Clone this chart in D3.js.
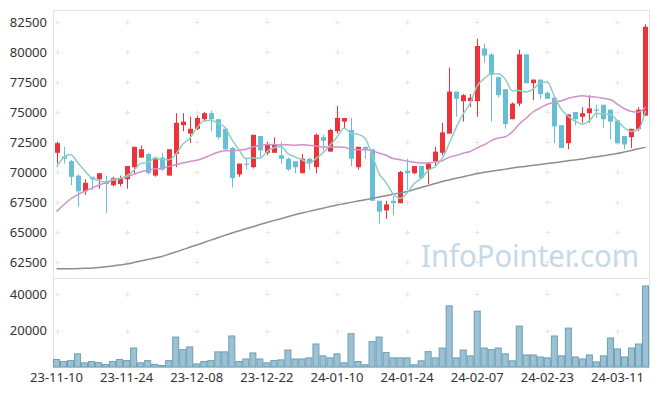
<!DOCTYPE html>
<html>
<head>
<meta charset="utf-8">
<script src="https://d3js.org/d3.v7.min.js"></script>
<style>
    body { margin: 0; background: #fff; }
    svg text { font-family: "Noto Sans", sans-serif; }
</style>
</head>
<body>
<div id="chartContainer"></div>
<script>
const ctx = {
    SVG_W: 657,
    SVG_H: 396,
    left: 53,
    right: 649,
    top: 10,
    priceBottom: 278,
    volBottom: 367,
    upColor: "#ee3338",
    downColor: "#66bfd7",
};

// trading days (yy-mm-dd)
const dates = [
    "23-11-10","23-11-13","23-11-14","23-11-15","23-11-16","23-11-17","23-11-20","23-11-21","23-11-22","23-11-23",
    "23-11-24","23-11-27","23-11-28","23-11-29","23-11-30","23-12-01","23-12-04","23-12-05","23-12-06","23-12-07",
    "23-12-08","23-12-11","23-12-12","23-12-13","23-12-14","23-12-15","23-12-18","23-12-19","23-12-20","23-12-21",
    "23-12-22","23-12-26","23-12-27","23-12-28","24-01-02","24-01-03","24-01-04","24-01-05","24-01-08","24-01-09",
    "24-01-10","24-01-11","24-01-12","24-01-15","24-01-16","24-01-17","24-01-18","24-01-19","24-01-22","24-01-23",
    "24-01-24","24-01-25","24-01-26","24-01-29","24-01-30","24-01-31","24-02-01","24-02-02","24-02-05","24-02-06",
    "24-02-07","24-02-08","24-02-13","24-02-14","24-02-15","24-02-16","24-02-19","24-02-20","24-02-21","24-02-22",
    "24-02-23","24-02-26","24-02-27","24-02-28","24-02-29","24-03-04","24-03-05","24-03-06","24-03-07","24-03-08",
    "24-03-11","24-03-12","24-03-13","24-03-14","24-03-15"
];

const opens = [
    71600,71300,70900,69700,68400,69600,69400,69200,68900,69000,
    69400,70400,71200,71500,69700,71200,69700,71500,73900,73200,
    73600,74400,74900,74400,73600,72000,69800,70700,70400,73000,
    71600,71600,71400,71100,70900,69900,71100,70400,72900,71700,
    73400,74200,73500,70400,72100,71900,67600,66800,67600,67400,
    70100,69900,70500,70200,70900,71600,73200,76700,75900,75900,
    75900,80300,79800,77900,76900,74400,75700,79800,77400,77700,
    76600,76200,73900,72400,75000,74600,74900,75200,75600,75200,
    74300,73000,72900,73600,74700
];
const highs = [
    72500,72100,71000,69800,69400,69600,69900,69700,69600,69700,
    70500,72100,72200,71600,71200,71600,71900,74900,74900,74600,
    74700,75000,75100,74400,73700,72100,70700,71200,73100,73000,
    72500,72900,72500,71200,70900,71500,71200,73200,73100,73600,
    75500,74500,74500,72100,72100,71900,67600,67600,68000,70100,
    71100,70500,70500,70800,72100,74100,78700,76700,76500,76500,
    81100,80700,79900,77900,76900,75800,80200,79800,77700,77700,
    76700,76200,73900,74800,75000,75400,76400,75600,75600,75200,
    74300,73000,73600,75400,82300
];
const lows = [
    70700,70700,68900,67100,68100,68500,68600,66600,68800,68800,
    68600,69900,71200,69800,69600,70100,69700,70400,73400,72400,
    73500,74200,73400,72700,71800,68700,69600,70200,70300,71200,
    71400,71600,70700,70100,69900,69900,70200,69900,71800,71700,
    73200,73600,70500,70200,71100,67600,65700,66100,66400,67400,
    68500,69800,69400,69000,70400,71400,73200,74600,74200,75400,
    74600,79100,74200,76200,73600,74400,75500,77400,76000,76100,
    76100,72400,72000,71900,73900,74100,74100,74500,73700,72700,
    72300,71900,72000,73400,74700
];
const closes = [
    72400,71100,69600,68400,69100,69400,69900,69000,69500,69500,
    70500,72100,71900,69900,71200,70200,71900,74100,74200,73600,
    74500,74900,74400,72900,71900,69500,70700,70600,73100,71800,
    72300,72300,71100,70200,70400,71100,70800,73100,72600,73500,
    74500,74500,71100,72100,71900,67600,66700,67300,67400,70000,
    69900,70500,69500,70700,71700,73300,76700,76100,76400,76200,
    80500,79700,78100,76400,74000,75700,79800,77400,77700,76500,
    76100,73800,72000,74800,74400,74900,75300,75100,74400,74200,
    72400,72300,73600,75200,82100
];
const volumes = [
    4100,3000,3500,7200,2300,3000,2400,1400,3000,4100,
    3500,10400,2300,3500,1400,800,3500,16400,9500,11000,
    1700,3000,3500,8300,8300,17000,3000,4400,7700,4400,
    2300,3500,3900,9300,4400,4400,5000,12600,6100,5000,
    7200,2300,18200,3000,1200,13900,16400,7900,5000,5000,
    5000,1200,3400,8400,5000,10400,33500,5000,9300,6100,
    30600,10400,9500,10400,7200,3400,22400,6600,6600,5500,
    5000,17000,6100,21300,5500,4400,6600,2800,6100,15900,
    9900,5500,10400,12600,44400
];

// moving averages
const ma5 = [
    70400,71200,71450,70800,70120,69520,69280,69160,69380,69460,
    69680,70120,70700,70780,71120,71060,71020,71460,72320,72800,
    73660,74260,74320,74060,73720,72720,71880,71120,71160,71140,
    71700,72020,72120,71540,71260,71020,70720,71120,71600,72220,
    72900,73640,73240,73140,72820,71440,69880,69120,68180,67800,
    68260,69020,69460,70120,70460,71140,72380,73700,74840,75740,
    77180,77780,78180,78180,77740,76780,76800,76660,76920,77420,
    77500,76300,75220,74640,74220,73980,74280,74900,74820,74780,
    74280,73680,73380,73540,75120
];
const ma20 = [
    66700,67250,67750,68100,68400,68650,68900,69100,69300,69450,
    69600,69800,70000,70150,70250,70300,70450,70600,70750,70880,
    70980,71170,71410,71640,71780,71780,71820,71900,72080,72200,
    72290,72300,72260,72270,72230,72280,72220,72170,72090,72090,
    72090,72070,71900,71860,71860,71770,71570,71400,71120,71030,
    70910,70820,70740,70760,70830,70940,71230,71380,71570,71710,
    72010,72270,72620,72830,72940,73340,74000,74500,75020,75340,
    75650,75820,75940,76150,76280,76360,76290,76240,76140,76040,
    75640,75270,75040,74980,75390
];
const maLong = [
    61930,61930,61940,61950,61970,61980,62040,62100,62170,62250,
    62330,62450,62580,62700,62830,62960,63140,63330,63530,63730,
    63920,64120,64320,64520,64720,64920,65090,65270,65440,65620,
    65790,65950,66110,66270,66430,66580,66720,66850,66980,67120,
    67250,67360,67470,67580,67680,67790,67910,68030,68140,68260,
    68380,68540,68710,68880,69040,69210,69340,69480,69610,69740,
    69880,69970,70060,70150,70240,70330,70410,70480,70560,70630,
    70710,70780,70860,70930,71010,71080,71180,71270,71360,71450,
    71540,71670,71800,71930,72060
];

const dateTicks = ["23-11-10","23-11-24","23-12-08","23-12-22","24-01-10","24-01-24","24-02-07","24-02-23","24-03-11"];
const priceTicks = [62500,65000,67500,70000,72500,75000,77500,80000,82500];
const volumeTicks = [20000,40000];


function createViz() {
    const svg = d3.select("#chartContainer").append("svg")
        .attr("width", ctx.SVG_W)
        .attr("height", ctx.SVG_H);

    svg.append("rect")
        .attr("width", ctx.SVG_W)
        .attr("height", ctx.SVG_H)
        .attr("fill", "#fff");

    // scales
    const x = d3.scaleBand()
        .domain(dates)
        .range([ctx.left, ctx.right])
        .paddingInner(0.3)
        .paddingOuter(0.15);

    const xVol = d3.scaleBand()
        .domain(dates)
        .range([ctx.left, ctx.right])
        .padding(0);

    const y = d3.scaleLinear()
        .domain([61167, 83500])
        .range([ctx.priceBottom, ctx.top]);

    const yVol = d3.scaleLinear()
        .domain([0, 48770])
        .range([ctx.volBottom, ctx.priceBottom]);

    const cx = d => x(d) + x.bandwidth() / 2;

    drawFrame(svg, x, y, yVol);

    // watermark
    svg.append("text")
        .attr("x", 421)
        .attr("y", 267)
        .attr("font-size", 31)
        .attr("fill", "#c6d9e6")
        .attr("textLength", 218)
        .attr("lengthAdjust", "spacingAndGlyphs")
        .text("InfoPointer.com");

    // volume
    svg.append("g").selectAll("rect")
        .data(dates)
        .enter()
        .append("rect")
        .attr("x", d => xVol(d) + 0.5)
        .attr("y", (d, i) => yVol(volumes[i]))
        .attr("width", xVol.bandwidth() - 1)
        .attr("height", (d, i) => yVol(0) - yVol(volumes[i]))
        .attr("fill", "#9cc1d2")
        .attr("stroke", "#6c9fb8")
        .attr("stroke-width", 1);

    // candles
    const candles = svg.append("g").selectAll("g")
        .data(dates)
        .enter()
        .append("g");

    candles.append("line")
        .attr("x1", d => Math.round(cx(d)) + 0.5)
        .attr("x2", d => Math.round(cx(d)) + 0.5)
        .attr("y1", (d, i) => y(highs[i]))
        .attr("y2", (d, i) => y(lows[i]))
        .attr("stroke", (d, i) => closes[i] >= opens[i] ? ctx.upColor : ctx.downColor)
        .attr("stroke-width", 1);

    candles.append("rect")
        .attr("x", d => Math.round(cx(d)) - 2)
        .attr("width", 5)
        .attr("y", (d, i) => y(Math.max(opens[i], closes[i])))
        .attr("height", (d, i) => Math.max(1, Math.abs(y(opens[i]) - y(closes[i]))))
        .attr("fill", (d, i) => closes[i] >= opens[i] ? ctx.upColor : ctx.downColor);

    // moving average lines
    const maLine = values => d3.line()
        .x(d => cx(d))
        .y((d, i) => y(values[i]))
        .curve(d3.curveMonotoneX)(dates);

    svg.append("path")
        .attr("d", maLine(maLong))
        .attr("fill", "none")
        .attr("stroke", "#8e8e8e")
        .attr("stroke-width", 1.5);

    svg.append("path")
        .attr("d", maLine(ma20))
        .attr("fill", "none")
        .attr("stroke", "#cf92cc")
        .attr("stroke-width", 1.5);

    svg.append("path")
        .attr("d", maLine(ma5))
        .attr("fill", "none")
        .attr("stroke", "#8fcdc2")
        .attr("stroke-width", 1.5);

    // axes
    const fmt = d3.format("d");

    const yAxis = svg.append("g")
        .attr("transform", `translate(${ctx.left},0)`)
        .call(d3.axisLeft(y).tickValues(priceTicks).tickFormat(fmt).tickSize(0).tickPadding(6));

    const vAxis = svg.append("g")
        .attr("transform", `translate(${ctx.left},0)`)
        .call(d3.axisLeft(yVol).tickValues(volumeTicks).tickFormat(fmt).tickSize(0).tickPadding(6));

    const xAxis = svg.append("g")
        .attr("transform", `translate(0,${ctx.volBottom})`)
        .call(d3.axisBottom(x).tickValues(dateTicks).tickSize(0).tickPadding(6));

    [yAxis, vAxis, xAxis].forEach(g => {
        g.select(".domain").remove();
        g.selectAll("text")
            .attr("fill", "#333")
            .attr("font-size", 13)
            .attr("font-family", "'Noto Sans', sans-serif");
    });
}

function drawFrame(svg, x, y, yVol) {
    const frame = svg.append("g");
    const gridColor = "#e6e6e6";

    // plus marks at grid intersections
    const marks = [];
    dateTicks.forEach(d => {
        const px = Math.round(x(d) + x.bandwidth() / 2) + 0.5;
        priceTicks.forEach(v => marks.push([px, Math.round(y(v)) + 0.5]));
        volumeTicks.forEach(v => marks.push([px, Math.round(yVol(v)) + 0.5]));
    });

    frame.selectAll(".mark")
        .data(marks)
        .enter()
        .append("path")
        .attr("class", "mark")
        .attr("d", d => `M${d[0] - 2.5},${d[1]}H${d[0] + 2.5}M${d[0]},${d[1] - 2.5}V${d[1] + 2.5}`)
        .attr("stroke", gridColor)
        .attr("stroke-width", 1);

    frame.append("rect")
        .attr("x", ctx.left + 0.5)
        .attr("y", ctx.top + 0.5)
        .attr("width", ctx.right - ctx.left)
        .attr("height", ctx.volBottom - ctx.top)
        .attr("fill", "none")
        .attr("stroke", "#e3e3e3");

    frame.append("line")
        .attr("x1", ctx.left)
        .attr("x2", ctx.right)
        .attr("y1", ctx.priceBottom + 0.5)
        .attr("y2", ctx.priceBottom + 0.5)
        .attr("stroke", "#e3e3e3");
}

createViz();
</script>
</body>
</html>
